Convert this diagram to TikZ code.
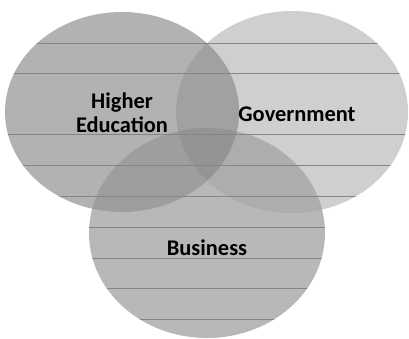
\documentclass[tikz,border=0pt]{standalone}
\usepackage{fontspec}
\setmainfont{Carlito}
\usepackage{tikz}

\tikzset{
  rule/.style  = {draw=black!48, line width=0.8bp},
  label/.style = {font=\bfseries\fontsize{22.5}{24}\selectfont, align=center, text=black}
}
\newcommand{\hedupath}{(122,112) ellipse [x radius=117, y radius=100]}
\newcommand{\govpath}{(292,112) ellipse [x radius=116, y radius=101]}
\newcommand{\buspath}{(207,233) ellipse [x radius=118, y radius=105]}

\begin{document}
\begin{tikzpicture}[x=1bp, y=-1bp]
  \useasboundingbox (0,0) rectangle (409,339);
  % the three sectors
  \fill [black!19] \govpath;
  \fill [black!30] \hedupath;
  \fill [black!28] \buspath;
  % overlaps
  \begin{scope}
    \clip \hedupath;
    \fill [black!37] \govpath;
    \fill [black!38] \buspath;
  \end{scope}
  \begin{scope}
    \clip \govpath;
    \fill [black!32] \buspath;
  \end{scope}
  \begin{scope}
    \clip \hedupath;
    \clip \govpath;
    \fill [black!42] \buspath;
  \end{scope}
  % ruled lines show only inside the circles
  \begin{scope}
    \clip \hedupath \govpath \buspath;
    \foreach \y in {43,73,134,165,196,227,258,288,319}
      \draw [rule] (0,\y) -- (409,\y);
  \end{scope}
  \node [label] (hedu) at (122,113) {Higher\\Education};
  \node [label] (gov)  at (297,114) {Government};
  \node [label] (bus)  at (207,248) {Business};
\end{tikzpicture}
\end{document}
